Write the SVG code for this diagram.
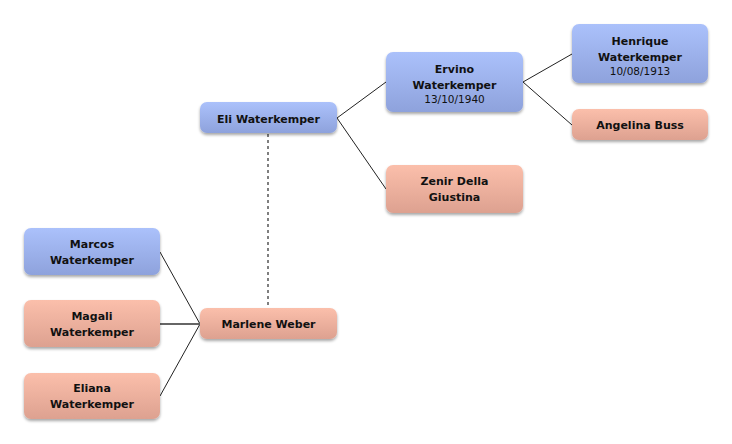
<svg xmlns="http://www.w3.org/2000/svg" width="732" height="444" viewBox="0 0 732 444">
<defs>
<linearGradient id="gb" x1="0" y1="0" x2="0" y2="1"><stop offset="0" stop-color="#abc1fb"/><stop offset="1" stop-color="#8ea2dc"/></linearGradient>
<linearGradient id="gp" x1="0" y1="0" x2="0" y2="1"><stop offset="0" stop-color="#fbbfab"/><stop offset="1" stop-color="#dda190"/></linearGradient>
<filter id="sh" x="-10%" y="-20%" width="120%" height="150%"><feGaussianBlur in="SourceAlpha" stdDeviation="1.5"/><feOffset dy="1.5"/><feComponentTransfer><feFuncA type="linear" slope="0.35"/></feComponentTransfer><feMerge><feMergeNode/><feMergeNode in="SourceGraphic"/></feMerge></filter>
</defs>
<style>
.b{fill:url(#gb);filter:url(#sh)}
.p{fill:url(#gp);filter:url(#sh)}
text{font-family:"DejaVu Sans",sans-serif;font-size:11px;font-weight:bold;fill:#111;text-anchor:middle}
.d{font-weight:normal;font-size:10.5px}
.c{stroke:#222;stroke-width:1;fill:none}
</style>
<rect width="732" height="444" fill="#fff"/>
<g id="connectors">
<path class="c" d="M337,118 L386,82 M337,118 L386,189 M523,82 L572,54 M523,82 L572,125 M160,252 L200,324 M160,396 L200,324"/>
<path d="M160,324 L200,324" stroke="#666" stroke-width="2"/>
<path d="M268,134 L268,308" stroke="#555" stroke-width="1.5" stroke-dasharray="3,3"/>
</g>
<g id="eli"><rect class="b" x="200" y="102" width="137" height="31" rx="7"/><text x="268.5" y="122.5">Eli Waterkemper</text></g>
<g id="ervino"><rect class="b" x="386" y="52" width="137" height="60" rx="7"/><text x="454.5" y="73">Ervino</text><text x="454.5" y="89">Waterkemper</text><text class="d" x="454.5" y="102.5">13/10/1940</text></g>
<g id="henrique"><rect class="b" x="572" y="24" width="136" height="59" rx="7"/><text x="640" y="45">Henrique</text><text x="640" y="61">Waterkemper</text><text class="d" x="640" y="74.5">10/08/1913</text></g>
<g id="angelina"><rect class="p" x="572" y="109" width="136" height="31" rx="7"/><text x="640" y="129">Angelina Buss</text></g>
<g id="zenir"><rect class="p" x="386" y="165" width="137" height="48" rx="7"/><text x="454.5" y="185">Zenir Della</text><text x="454.5" y="201">Giustina</text></g>
<g id="marcos"><rect class="b" x="24" y="228" width="136" height="47" rx="7"/><text x="92" y="248">Marcos</text><text x="92" y="264">Waterkemper</text></g>
<g id="magali"><rect class="p" x="24" y="300" width="136" height="47" rx="7"/><text x="92" y="320">Magali</text><text x="92" y="336">Waterkemper</text></g>
<g id="eliana"><rect class="p" x="24" y="373" width="136" height="46" rx="7"/><text x="92" y="392">Eliana</text><text x="92" y="408">Waterkemper</text></g>
<g id="marlene"><rect class="p" x="200" y="308" width="137" height="31" rx="7"/><text x="268.5" y="328">Marlene Weber</text></g>
</svg>
